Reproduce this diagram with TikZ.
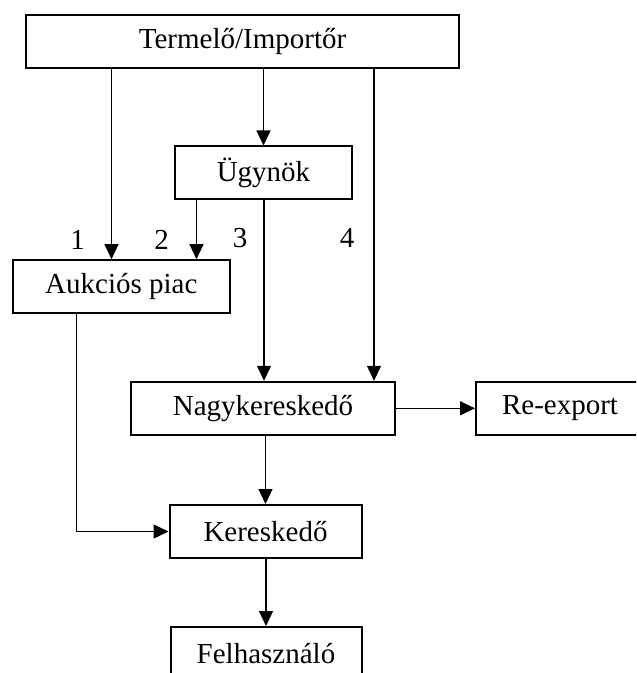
\documentclass[tikz,border=0pt]{standalone}
\usepackage{fontspec}
\setmainfont{Liberation Serif}
\usepackage{tikz}
\usetikzlibrary{positioning, arrows.meta, calc}

\begin{document}
\begin{tikzpicture}[x=0.5pt, y=-0.5pt,
  every node/.style={font=\fontsize{14.5}{17}\selectfont},
  box/.style={draw, line width=1pt, inner sep=0pt, minimum height=26.5pt},
  conn/.style={line width=0.6pt},
  arr/.style={conn, -{Triangle[length=7.5pt, width=7pt]}}]
% Frame of the page
\useasboundingbox (0,0) rectangle (636,673);
\clip (0,0) rectangle (636,673);
% Boxes
\node[box, minimum width=216.5pt] (termelo) at (242.5,42) {Termelő/Importőr};
\node[box, minimum width=88.5pt] (ugynok) at (263.5,173) {Ügynök};
\node[box, minimum width=108.5pt] (aukcios) at (121.3,286.7) {Aukciós piac};
\node[box, minimum width=132pt] (nagyker) at (263,408.3) {Nagykereskedő};
\node[box, minimum width=84pt] (reexport) at (560,408) {Re-export};
\node[box, minimum width=96pt] (keresk) at (265.5,531.5) {Kereskedő};
\node[box, minimum width=95.5pt] (felhasz) at (266,653.5) {Felhasználó};
% Columns of the vertical connectors
\coordinate (c1) at (111.5,0);
\coordinate (c2) at (196.5,0);
\coordinate (c3) at (264,0);
\coordinate (c4) at (374,0);
\coordinate (c5) at (76.5,0);
% Channel numbers
\foreach \n/\x/\y in {1/77.7/240, 2/161.7/240, 3/240/238, 4/347/238} {
  \node (l\n) at (\x,\y) {\n};
}
% Connectors
\draw[arr] (termelo.south -| c1) -- (aukcios.north -| c1);
\draw[arr] (termelo.south -| ugynok.north) -- (ugynok.north);
\draw[arr] (termelo.south -| c4) -- (nagyker.north -| c4);
\draw[arr] (ugynok.south -| c2) -- (aukcios.north -| c2);
\draw[arr] (ugynok.south -| c3) -- (nagyker.north -| c3);
\draw[arr] (aukcios.south -| c5) |- (keresk.west);
\draw[arr] (nagyker.south -| keresk.north) -- (keresk.north);
\draw[arr] (nagyker.east) -- (reexport.west |- nagyker.east);
\draw[arr] (keresk.south -| felhasz.north) -- (felhasz.north);
\end{tikzpicture}
\end{document}
